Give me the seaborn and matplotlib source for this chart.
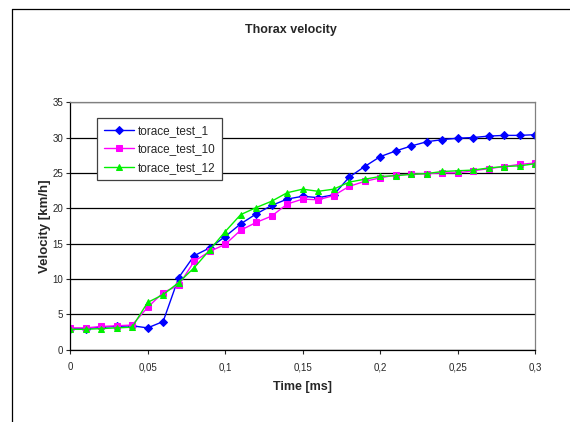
import numpy as np
import pandas as pd
import seaborn as sns
import matplotlib.pyplot as plt
from matplotlib.lines import Line2D
from matplotlib.ticker import FuncFormatter

# --- dati ---
tempo = [0.00, 0.01, 0.02, 0.03, 0.04, 0.05, 0.06, 0.07, 0.08, 0.09, 0.10,
         0.11, 0.12, 0.13, 0.14, 0.15, 0.16, 0.17, 0.18, 0.19, 0.20,
         0.21, 0.22, 0.23, 0.24, 0.25, 0.26, 0.27, 0.28, 0.29, 0.30]

torace_test_1 = [3.0, 3.0, 3.2, 3.3, 3.4, 3.1, 4.0, 10.2, 13.3, 14.4, 16.0,
                 17.8, 19.2, 20.4, 21.3, 21.7, 21.5, 21.9, 24.4, 25.9, 27.3,
                 28.1, 28.8, 29.4, 29.7, 29.9, 30.0, 30.2, 30.3, 30.3, 30.4]

torace_test_10 = [3.1, 3.1, 3.3, 3.4, 3.5, 6.0, 8.1, 9.1, 12.5, 13.9, 14.9,
                  16.9, 18.0, 18.9, 20.6, 21.3, 21.2, 21.8, 23.1, 23.8, 24.3,
                  24.7, 24.8, 24.9, 25.0, 25.0, 25.3, 25.6, 25.9, 26.2, 26.4]

torace_test_12 = [2.9, 2.9, 3.0, 3.1, 3.2, 6.7, 7.8, 9.5, 11.6, 14.1, 16.7,
                  19.1, 20.1, 21.0, 22.2, 22.7, 22.4, 22.7, 23.7, 24.1, 24.5,
                  24.6, 24.8, 24.9, 25.2, 25.3, 25.4, 25.7, 25.9, 26.0, 26.3]

serie = ['torace_test_1', 'torace_test_10', 'torace_test_12']
valori = [torace_test_1, torace_test_10, torace_test_12]

df = pd.concat([pd.DataFrame({'Time': tempo, 'Velocity': v, 'Serie': s})
                for s, v in zip(serie, valori)], ignore_index=True)

colori = {'torace_test_1': '#0000FF', 'torace_test_10': '#FF00FF', 'torace_test_12': '#00F000'}
marcatori = {'torace_test_1': 'D', 'torace_test_10': 's', 'torace_test_12': '^'}
dimensioni = {'torace_test_1': 3.8, 'torace_test_10': 4.5, 'torace_test_12': 5.0}

# --- grafico ---
sns.set_style('white')
plt.rcParams['font.family'] = ['Liberation Sans', 'DejaVu Sans']

fig = plt.figure(figsize=(5.7, 4.22), dpi=100)
ax = fig.add_axes([0.123, 0.171, 0.816, 0.587])

for s in serie:
    sns.lineplot(data=df[df['Serie'] == s], x='Time', y='Velocity', ax=ax,
                 color=colori[s], marker=marcatori[s], markersize=dimensioni[s],
                 markeredgecolor=colori[s], linewidth=1.0, label=s)

ax.set_xlim(0, 0.3)
ax.set_ylim(0, 35)
ax.set_xticks(np.arange(0, 0.31, 0.05))
ax.set_yticks(range(0, 36, 5))
ax.xaxis.set_major_formatter(FuncFormatter(lambda v, p: f'{v:g}'.replace('.', ',')))
ax.tick_params(axis='both', labelsize=7, length=3, width=0.8, direction='out',
               bottom=True, left=True)
ax.tick_params(axis='y', pad=2)
ax.tick_params(axis='x', pad=6)
ax.yaxis.grid(True, color='black', linewidth=0.9)
ax.set_axisbelow(True)

for lato in ['left', 'bottom']:
    ax.spines[lato].set_color('black')
    ax.spines[lato].set_linewidth(0.9)
for lato in ['top', 'right']:
    ax.spines[lato].set_color('#808080')
    ax.spines[lato].set_linewidth(0.9)

ax.set_xlabel('Time [ms]', fontsize=9, fontweight='bold', labelpad=6)
ax.set_ylabel('Velocity [km/h]', fontsize=9.5, fontweight='bold', labelpad=1)

leg = ax.legend(loc='upper left', bbox_to_anchor=(0.058, 0.935), borderaxespad=0,
                fontsize=8.5, frameon=True, fancybox=False, edgecolor='#404040',
                framealpha=1, handlelength=2.6, borderpad=0.55, labelspacing=0.55,
                handletextpad=0.3)
leg.get_frame().set_linewidth(0.9)

fig.text(0.51, 0.928, 'Thorax velocity', ha='center', va='center',
         fontsize=9, fontweight='bold')

# cornice del grafico
fig.add_artist(Line2D([0.021, 1.0], [0.979, 0.979], color='black', linewidth=0.9))
fig.add_artist(Line2D([0.021, 0.021], [0.0, 0.979], color='black', linewidth=0.9))

plt.savefig('out.png', dpi=100)
